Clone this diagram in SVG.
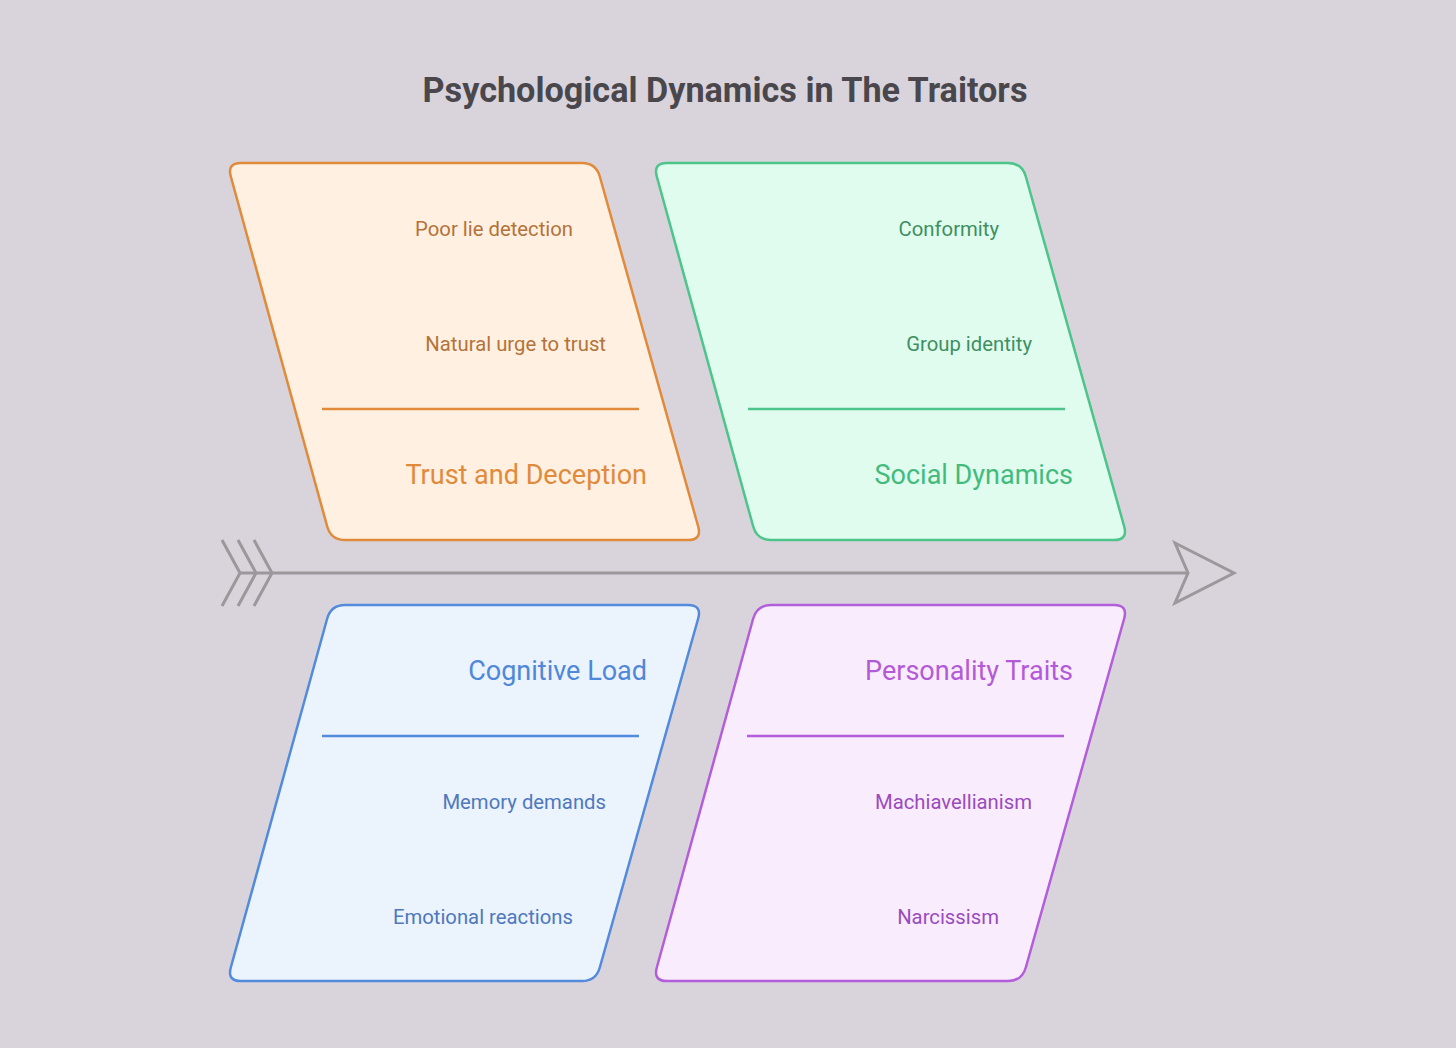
<svg xmlns="http://www.w3.org/2000/svg" width="1456" height="1048" viewBox="0 0 1456 1048">
<defs>
<style>
text{font-family:Roboto,"Liberation Sans",sans-serif}
.title{font-size:34.2px;font-weight:700;fill:#4a474c}
.sub{font-size:20.3px;text-anchor:end}
.head{font-size:27px;text-anchor:end}
.box{stroke-width:2.5}
.div{stroke-width:2.5}
.arrow{fill:none;stroke:#9b989c;stroke-width:3;stroke-linejoin:miter}
</style>
</defs>
<rect width="1456" height="1048" fill="#d9d4dc"/>
<text class="title" x="725" y="102" text-anchor="middle">Psychological Dynamics in The Traitors</text>

<g id="connectors">
<line class="arrow" x1="240" y1="573" x2="1188" y2="573"/>
<polyline class="arrow" points="222,540 240,573 222,606"/>
<polyline class="arrow" points="238,540 256,573 238,606"/>
<polyline class="arrow" points="254,540 272,573 254,606"/>
<polygon class="arrow" points="1175,543 1234,573 1175,603 1188,573"/>
</g>

<g id="trust">
<path class="box" fill="#fff0e1" stroke="#e08a3b" d="M241,163 L582,163 Q596,163 599.8,176.5 L698.2,526.5 Q702,540 688,540 L345,540 Q331,540 327.2,526.5 L230.8,176.5 Q227,163 241,163 Z"/>
<line class="div" stroke="#e08a3b" x1="322" y1="409" x2="639" y2="409"/>
<text class="sub" fill="#b3733a" x="573" y="236">Poor lie detection</text>
<text class="sub" fill="#b3733a" x="606" y="351">Natural urge to trust</text>
<text class="head" fill="#e08a3b" x="647" y="484">Trust and Deception</text>
</g>

<g id="social">
<path class="box" fill="#e0fcee" stroke="#4cc48a" d="M667,163 L1008,163 Q1022,163 1025.8,176.5 L1124.2,526.5 Q1128,540 1114,540 L771,540 Q757,540 753.2,526.5 L656.8,176.5 Q653,163 667,163 Z"/>
<line class="div" stroke="#4cc48a" x1="748" y1="409" x2="1065" y2="409"/>
<text class="sub" fill="#3e8f61" x="999" y="236">Conformity</text>
<text class="sub" fill="#3e8f61" x="1032" y="351">Group identity</text>
<text class="head" fill="#42bb7c" x="1073" y="484">Social Dynamics</text>
</g>

<g id="cognitive">
<path class="box" fill="#ebf3fd" stroke="#528bdc" d="M345,605 L688,605 Q702,605 698.2,618.5 L599.8,967.5 Q596,981 582,981 L241,981 Q227,981 230.8,967.5 L327.2,618.5 Q331,605 345,605 Z"/>
<line class="div" stroke="#528bdc" x1="322" y1="736" x2="639" y2="736"/>
<text class="head" fill="#4f87d9" x="647" y="680">Cognitive Load</text>
<text class="sub" fill="#4f78bd" x="606" y="809">Memory demands</text>
<text class="sub" fill="#4f78bd" x="573" y="924">Emotional reactions</text>
</g>

<g id="personality">
<path class="box" fill="#f9edfd" stroke="#b45ddb" d="M771,605 L1114,605 Q1128,605 1124.2,618.5 L1025.8,967.5 Q1022,981 1008,981 L667,981 Q653,981 656.8,967.5 L753.2,618.5 Q757,605 771,605 Z"/>
<line class="div" stroke="#b45ddb" x1="747" y1="736" x2="1064" y2="736"/>
<text class="head" fill="#b35ad8" x="1073" y="680">Personality Traits</text>
<text class="sub" fill="#9a4bbf" x="1032" y="809">Machiavellianism</text>
<text class="sub" fill="#9a4bbf" x="999" y="924">Narcissism</text>
</g>
</svg>
